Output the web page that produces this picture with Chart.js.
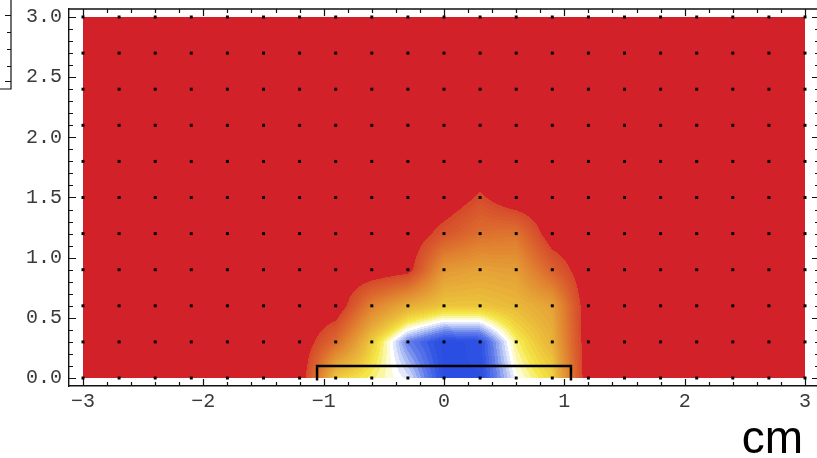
<!DOCTYPE html>
<html>
<head>
<meta charset="utf-8">
<script src="https://cdn.jsdelivr.net/npm/chart.js@4.4.1/dist/chart.umd.min.js"></script>
<style>
  html, body { margin: 0; padding: 0; background: #fff; overflow: hidden; }
  #wrap { width: 825px; height: 458px; }
</style>
</head>
<body>
<div id="wrap"><canvas id="fieldChart" width="825" height="458"></canvas></div>
<script>
// measurement grid (cm)
const xGrid = [-3.0, -2.7, -2.4, -2.1, -1.8, -1.5, -1.2, -0.9, -0.6, -0.3, 0.0, 0.3, 0.6, 0.9, 1.2, 1.5, 1.8, 2.1, 2.4, 2.7, 3.0];
const yGrid = [0.0, 0.3, 0.6, 0.9, 1.2, 1.5, 1.8, 2.1, 2.4, 2.7, 3.0];

// normalised level at each grid point, one row per yGrid value
const fieldValues = [
  [0, 0, 0, 0, 0, 0, 0, 0.60, 0.68, 0.76, 0.96, 0.96, 0.74, 0.62, 0, 0, 0, 0, 0, 0, 0],
  [0, 0, 0, 0, 0, 0, 0, 0.24, 0.60, 0.86, 0.97, 0.95, 0.68, 0.52, 0, 0, 0, 0, 0, 0, 0],
  [0, 0, 0, 0, 0, 0, 0, 0, 0.33, 0.50, 0.58, 0.58, 0.54, 0.46, 0, 0, 0, 0, 0, 0, 0],
  [0, 0, 0, 0, 0, 0, 0, 0, 0, 0.05, 0.42, 0.46, 0.44, 0.20, 0, 0, 0, 0, 0, 0, 0],
  [0, 0, 0, 0, 0, 0, 0, 0, 0, 0, 0.15, 0.26, 0.28, 0.02, 0, 0, 0, 0, 0, 0, 0],
  [0, 0, 0, 0, 0, 0, 0, 0, 0, 0, 0, 0.12, 0, 0, 0, 0, 0, 0, 0, 0, 0],
  [0, 0, 0, 0, 0, 0, 0, 0, 0, 0, 0, 0, 0, 0, 0, 0, 0, 0, 0, 0, 0],
  [0, 0, 0, 0, 0, 0, 0, 0, 0, 0, 0, 0, 0, 0, 0, 0, 0, 0, 0, 0, 0],
  [0, 0, 0, 0, 0, 0, 0, 0, 0, 0, 0, 0, 0, 0, 0, 0, 0, 0, 0, 0, 0],
  [0, 0, 0, 0, 0, 0, 0, 0, 0, 0, 0, 0, 0, 0, 0, 0, 0, 0, 0, 0, 0],
  [0, 0, 0, 0, 0, 0, 0, 0, 0, 0, 0, 0, 0, 0, 0, 0, 0, 0, 0, 0, 0]
];

// probe outline
const probeX = [-1.055, -1.055, 1.055, 1.055];
const probeY = [-0.02, 0.1, 0.1, -0.02];

// axis ticks
const xMajorTicks = [-3, -2, -1, 0, 1, 2, 3];
const yMajorTicks = [0, 0.5, 1.0, 1.5, 2.0, 2.5, 3.0];
const xMinorStep = 0.2;
const yMinorStep = 0.1;

const contourFloor = 0.1;
const baseRed = [211, 33, 42];
const colorStops = [
  [0.10, [213, 72, 43]],
  [0.20, [218, 96, 45]],
  [0.30, [223, 122, 47]],
  [0.42, [228, 152, 52]],
  [0.52, [232, 178, 58]],
  [0.60, [238, 204, 60]],
  [0.66, [246, 232, 74]],
  [0.71, [252, 250, 190]],
  [0.74, [255, 255, 255]],
  [0.79, [186, 200, 245]],
  [0.86, [98, 126, 235]],
  [0.93, [50, 85, 228]],
  [1.00, [36, 70, 225]]
];

function levelColor(v) {
  if (v < contourFloor) return baseRed;
  v = Math.min(1, Math.floor(v * 48) / 48 + 1 / 96);
  if (v <= colorStops[0][0]) return colorStops[0][1];
  for (let k = 1; k < colorStops.length; k++) {
    const [v1, c1] = colorStops[k];
    if (v <= v1) {
      const [v0, c0] = colorStops[k - 1];
      const t = (v - v0) / (v1 - v0);
      return [0, 1, 2].map(n => Math.round(c0[n] + (c1[n] - c0[n]) * t));
    }
  }
  return colorStops[colorStops.length - 1][1];
}

function cellIndex(grid, v) {
  let i = 0;
  while (i < grid.length - 2 && v > grid[i + 1]) i++;
  return i;
}

// bilinear interpolation inside the grid cell
function fieldAt(x, y) {
  const i = cellIndex(xGrid, x);
  const j = cellIndex(yGrid, y);
  const tx = Math.max(0, Math.min(1, (x - xGrid[i]) / (xGrid[i + 1] - xGrid[i])));
  const ty = Math.max(0, Math.min(1, (y - yGrid[j]) / (yGrid[j + 1] - yGrid[j])));
  const a = fieldValues[j][i], b = fieldValues[j][i + 1];
  const c = fieldValues[j + 1][i], d = fieldValues[j + 1][i + 1];
  return (a * (1 - tx) + b * tx) * (1 - ty) + (c * (1 - tx) + d * tx) * ty;
}

const fieldShading = {
  id: 'fieldShading',
  beforeDatasetsDraw(chart) {
    const { ctx, scales: { x, y } } = chart;
    const left = Math.round(x.getPixelForValue(xGrid[0]));
    const right = Math.round(x.getPixelForValue(xGrid[xGrid.length - 1]));
    const top = Math.round(y.getPixelForValue(yGrid[yGrid.length - 1]));
    const bottom = Math.round(y.getPixelForValue(yGrid[0]));
    const w = right - left, h = bottom - top;
    const off = document.createElement('canvas');
    off.width = w;
    off.height = h;
    const octx = off.getContext('2d');
    const img = octx.createImageData(w, h);
    for (let r = 0; r < h; r++) {
      const yv = y.getValueForPixel(top + r + 0.5);
      for (let c = 0; c < w; c++) {
        const xv = x.getValueForPixel(left + c + 0.5);
        const col = levelColor(fieldAt(xv, yv));
        const k = (r * w + c) * 4;
        img.data[k] = col[0];
        img.data[k + 1] = col[1];
        img.data[k + 2] = col[2];
        img.data[k + 3] = 255;
      }
    }
    octx.putImageData(img, 0, 0);
    ctx.drawImage(off, left, top);
  }
};

// frame with inward ticks, unit label
const frameTicks = {
  id: 'frameTicks',
  afterDraw(chart) {
    const { ctx, chartArea: area, scales: { x, y } } = chart;
    ctx.save();
    ctx.strokeStyle = '#111';
    ctx.lineWidth = 1.4;
    ctx.beginPath();
    ctx.moveTo(area.left, area.top);
    ctx.lineTo(area.right, area.top);
    ctx.lineTo(area.right, area.bottom);
    ctx.stroke();

    ctx.lineWidth = 1.2;
    ctx.beginPath();
    for (let v = xMajorTicks[0]; v <= xMajorTicks[xMajorTicks.length - 1] + 1e-6; v += xMinorStep) {
      const major = xMajorTicks.some(m => Math.abs(m - v) < 1e-6);
      const len = major ? 7 : 4;
      const px = Math.round(x.getPixelForValue(v)) + 0.5;
      ctx.moveTo(px, area.bottom);
      ctx.lineTo(px, area.bottom - len);
      ctx.moveTo(px, area.top);
      ctx.lineTo(px, area.top + len);
    }
    for (let v = yMajorTicks[0]; v <= yMajorTicks[yMajorTicks.length - 1] + 1e-6; v += yMinorStep) {
      const major = yMajorTicks.some(m => Math.abs(m - v) < 1e-6);
      const len = major ? 7 : 4;
      const py = Math.round(y.getPixelForValue(v)) + 0.5;
      ctx.moveTo(area.left, py);
      ctx.lineTo(area.left + len, py);
      ctx.moveTo(area.right, py);
      ctx.lineTo(area.right - len, py);
    }
    ctx.stroke();

    // edge of the neighbouring panel
    ctx.beginPath();
    ctx.moveTo(11, 0);
    ctx.lineTo(11, 89);
    ctx.lineTo(0, 89);
    [15, 32, 49, 66, 81].forEach((py, n) => {
      const len = (n === 0 || n === 4) ? 6 : 4;
      ctx.moveTo(11, py + 0.5);
      ctx.lineTo(11 - len, py + 0.5);
    });
    ctx.stroke();

    ctx.fillStyle = '#000';
    ctx.font = '46px "Liberation Sans", Arial, sans-serif';
    ctx.textAlign = 'right';
    ctx.textBaseline = 'alphabetic';
    ctx.fillText('cm', 803, 453);
    ctx.restore();
  }
};

const gridPoints = [];
yGrid.forEach(yv => xGrid.forEach(xv => gridPoints.push({ x: xv, y: yv })));

const probePoints = probeX.map((xv, n) => ({ x: xv, y: probeY[n] }));

const tickFont = { family: '"Liberation Mono", "Courier New", monospace', size: 20 };

new Chart(document.getElementById('fieldChart'), {
  type: 'scatter',
  data: {
    datasets: [
      {
        label: 'probe',
        data: probePoints,
        showLine: true,
        borderColor: '#000',
        borderWidth: 2.5,
        borderJoinStyle: 'miter',
        pointRadius: 0,
        fill: false,
        clip: false,
        order: 0
      },
      {
        label: 'grid',
        data: gridPoints,
        pointStyle: 'rect',
        pointRadius: 2.1,
        backgroundColor: '#000',
        borderWidth: 0,
        clip: false,
        order: 1
      }
    ]
  },
  options: {
    responsive: false,
    animation: false,
    layout: { padding: { top: 9, right: 6, left: 0, bottom: 0 } },
    plugins: { legend: { display: false }, tooltip: { enabled: false } },
    scales: {
      x: {
        type: 'linear',
        min: -3.1163,
        max: 3.1163,
        afterBuildTicks: scale => { scale.ticks = xMajorTicks.map(v => ({ value: v })); },
        afterFit: scale => {
          scale.height = 72;
          scale.paddingLeft = 0;
          scale.paddingRight = 0;
        },
        grid: { display: false, drawTicks: false },
        border: { display: true, color: '#111', width: 1.4 },
        ticks: {
          autoSkip: false,
          maxRotation: 0,
          padding: 4,
          color: '#3a3a3a',
          font: tickFont,
          callback: v => (v < 0 ? '\u2212' + Math.abs(v) : String(v))
        }
      },
      y: {
        type: 'linear',
        min: -0.0665,
        max: 3.0665,
        afterBuildTicks: scale => { scale.ticks = yMajorTicks.map(v => ({ value: v })); },
        afterFit: scale => {
          scale.width = 69;
          scale.paddingTop = 0;
          scale.paddingBottom = 0;
        },
        grid: { display: false, drawTicks: false },
        border: { display: true, color: '#111', width: 1.4 },
        ticks: {
          autoSkip: false,
          padding: 7,
          color: '#3a3a3a',
          font: tickFont,
          callback: v => v.toFixed(1)
        }
      }
    }
  },
  plugins: [fieldShading, frameTicks]
});
</script>
</body>
</html>
